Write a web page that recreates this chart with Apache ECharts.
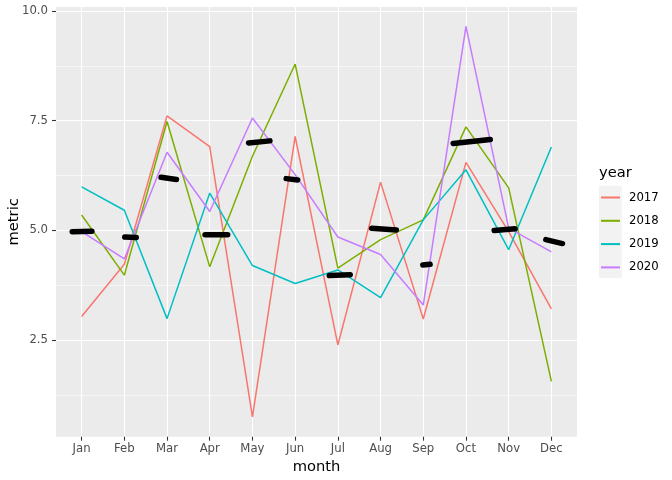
<!DOCTYPE html>
<html><head><meta charset="utf-8">
<script src="https://cdn.jsdelivr.net/npm/echarts@6/dist/echarts.min.js"></script>
<style>html,body{margin:0;padding:0;background:#fff}#c{width:672px;height:480px}</style>
</head><body><div id="c"></div>
<script>
const months = ['Jan','Feb','Mar','Apr','May','Jun','Jul','Aug','Sep','Oct','Nov','Dec'];
const years = ['2017','2018','2019','2020'];
const v2017 = [3.04, 4.23, 7.61, 6.91, 0.75, 7.14, 2.39, 6.10, 2.98, 6.55, 4.97, 3.21];
const v2018 = [5.35, 3.98, 7.48, 4.17, 6.69, 8.79, 4.14, 4.79, 5.24, 7.36, 5.97, 1.56];
const v2019 = [5.99, 5.46, 2.99, 5.85, 4.20, 3.79, 4.10, 3.47, 5.24, 6.38, 4.56, 6.90];
const v2020 = [4.97, 4.35, 6.78, 5.43, 7.56, 6.27, 4.85, 4.45, 3.30, 9.65, 5.05, 4.51];
// black jittered mean marks: start/end position (month index) and value
const segX0 = [0.78, 2.01, 2.86, 3.89, 4.91, 5.79, 6.80, 7.79, 8.99, 9.70, 10.66, 11.87];
const segX1 = [1.24, 2.28, 3.22, 4.42, 5.41, 6.06, 7.29, 8.37, 9.16, 10.57, 11.15, 12.26];
const segY0 = [4.97, 4.85, 6.21, 4.90, 6.99, 6.18, 3.97, 5.05, 4.21, 6.98, 5.00, 4.79];
const segY1 = [4.98, 4.84, 6.16, 4.90, 7.04, 6.15, 3.99, 5.01, 4.23, 7.07, 5.04, 4.70];
const yTicks = [2.5, 5.0, 7.5, 10.0];
const yMinor = [1.25, 3.75, 6.25, 8.75];
const monthIdx = [1,2,3,4,5,6,7,8,9,10,11,12];

const colors = ['#F8766D','#7CAE00','#00BFC4','#C77CFF'];
const vals = [v2017, v2018, v2019, v2020];
const FONT = 'DejaVu Sans';

const series = [];
years.forEach((y, i) => {
  series.push({
    name: y, type: 'line', xAxisIndex: 0, yAxisIndex: 0,
    data: vals[i].map((v, k) => [monthIdx[k], v]),
    symbol: 'none', lineStyle: {color: colors[i], width: 1.5}, itemStyle: {color: colors[i]},
    animation: false, z: 2
  });
});
segX0.forEach((x0, k) => {
  series.push({
    type: 'line', xAxisIndex: 0, yAxisIndex: 0,
    data: [[x0, segY0[k]], [segX1[k], segY1[k]]],
    symbol: 'none', lineStyle: {color: '#000', width: 5.5, cap: 'round'},
    animation: false, z: 3, silent: true
  });
});

const chart = echarts.init(document.getElementById('c'), null, {renderer: 'canvas'});
chart.setOption({
  animation: false,
  textStyle: {fontFamily: FONT},
  grid: {left: 56, right: 95, top: 7, bottom: 43.3, show: true, backgroundColor: '#EBEBEB', borderWidth: 0, outerBoundsMode: 'none', containLabel: false},
  title: {text: 'year', left: 599, top: 166, padding: 0, textStyle: {fontFamily: FONT, fontSize: 14.7, fontWeight: 'normal', color: '#000'}},
  legend: {
    data: years, orient: 'vertical', left: 601, top: 190.5, itemWidth: 19, itemHeight: 2, itemGap: 9.3,
    icon: 'rect', padding: 0,
    textStyle: {fontFamily: FONT, fontSize: 11.7, color: '#000', lineHeight: 14, padding: [0,0,0,4]}
  },
  graphic: [{type: 'rect', shape: {x: 599, y: 185.7, width: 22.7, height: 92.3}, style: {fill: '#F2F2F2'}, z: -10}],
  xAxis: [{
    type: 'value', min: 0.4, max: 12.6,
    name: 'month', nameLocation: 'middle', nameGap: 23, nameMoveOverlap: false,
    nameTextStyle: {fontFamily: FONT, fontSize: 14.7, color: '#000'},
    axisLine: {show: false},
    axisTick: {show: true, length: 4, lineStyle: {color: '#333', width: 1.1}, customValues: monthIdx},
    axisLabel: {customValues: monthIdx, formatter: v => months[Math.round(v) - 1], margin: 6, fontFamily: FONT, fontSize: 11.7, color: '#4D4D4D'},
    splitLine: {show: true, lineStyle: {color: '#fff', width: 1.1}}
  }],
  yAxis: [{
    type: 'value', min: 0.30, max: 10.09,
    name: 'metric', nameLocation: 'middle', nameGap: 34, nameRotate: 90, nameMoveOverlap: false,
    nameTextStyle: {fontFamily: FONT, fontSize: 14.7, color: '#000'},
    axisLine: {show: false},
    axisTick: {show: true, length: 4, lineStyle: {color: '#333', width: 1.1}, customValues: yTicks},
    axisLabel: {customValues: yTicks, formatter: v => v.toFixed(1), margin: 8, fontFamily: FONT, fontSize: 11.7, color: '#4D4D4D'},
    splitLine: {show: true, lineStyle: {color: '#fff', width: 1.1}}
  }, {
    type: 'value', min: 0.30, max: 10.09, position: 'left',
    axisLine: {show: false},
    axisTick: {show: false, customValues: yMinor},
    axisLabel: {show: false, customValues: yMinor},
    splitLine: {show: true, lineStyle: {color: '#fff', width: 0.55}}
  }],
  series: series
});
</script></body></html>
